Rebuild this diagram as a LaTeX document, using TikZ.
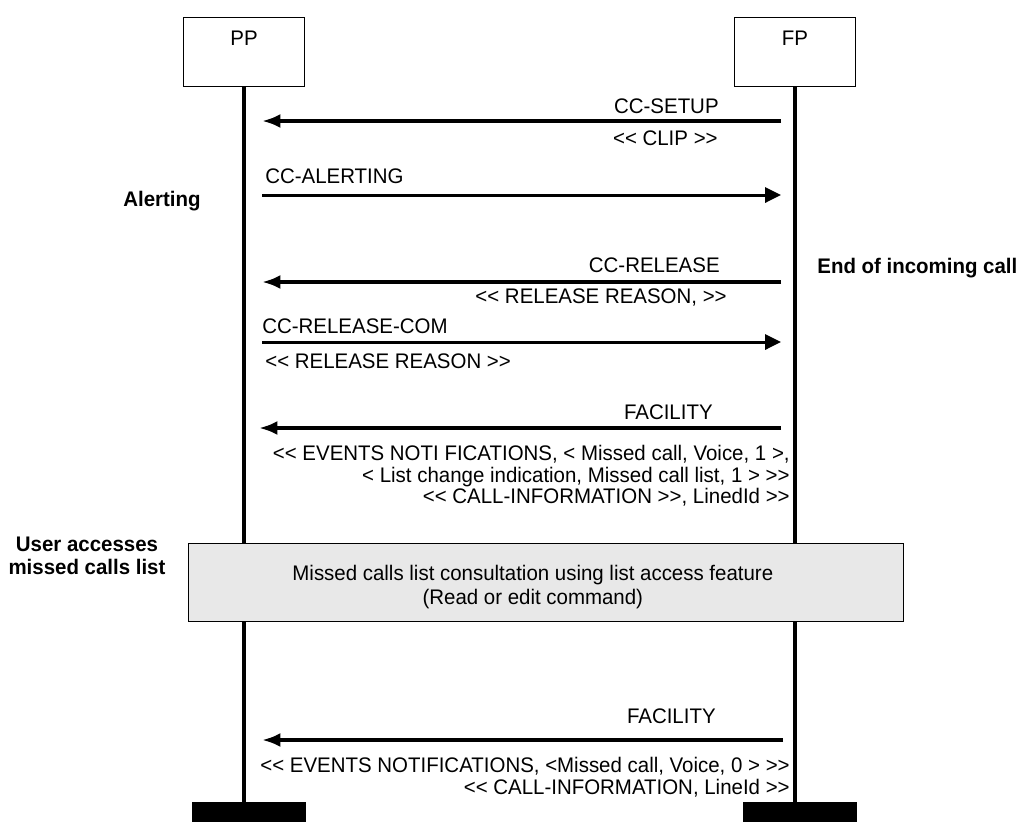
\documentclass[tikz,border=0pt]{standalone}
\usepackage{fontspec}
\setmainfont{Liberation Sans}[Ligatures=TeXOff,FakeStretch=0.97]
\usetikzlibrary{arrows.meta,positioning}
\definecolor{consultGray}{RGB}{232,232,232}
\tikzset{
  entity/.style={draw,line width=0.7pt,inner sep=0pt,minimum width=69pt,text height=15.9pt,text depth=23.8pt,font=\fontsize{12}{13}\selectfont},
  foot/.style={fill=black,inner sep=0pt,minimum width=65pt,minimum height=11.3pt},
  lifeline/.style={line width=2.4pt},
  sigheavy/.style={line width=2.3pt,-{Latex[length=10.5pt,width=8pt]}},
  siglight/.style={line width=1.7pt,-{Triangle[length=9pt,width=8.5pt]}},
  lbl/.style={inner sep=0pt,font=\fontsize{12}{13}\selectfont},
  note/.style={inner sep=0pt,font=\fontsize{12}{13}\selectfont\bfseries},
  params/.style={inner sep=0pt,align=right,anchor=north east,font=\fontsize{12}{12.3}\selectfont}
}
\begin{document}
\begin{tikzpicture}[x=0.02cm,y=-0.02cm]
\useasboundingbox (0,0) rectangle (1020,822);

% entities and lifelines
\node[entity] (pp) at (244,52) {PP};
\node[entity] (fp) at (795,52) {FP};
\node[foot] (ppfoot) at (249,812) {};
\node[foot] (fpfoot) at (800,812) {};
\draw[lifeline] (pp.south) -- (pp.south |- ppfoot.north);
\draw[lifeline] (fp.south) -- (fp.south |- fpfoot.north);

% CC-SETUP
\coordinate (setupR) at (781,121);
\coordinate (setupL) at (262,121);
\draw[sigheavy] (setupR) -- (setupL);
\node[lbl,anchor=east] (setup) at (719,106) {CC-SETUP};
\node[lbl,anchor=east] (clip) at (718,138) {<< CLIP >>};

% CC-ALERTING
\coordinate (alertL) at (262,195);
\coordinate (alertR) at (781,195);
\draw[siglight] (alertL) -- (alertR);
\node[lbl,anchor=west] (alerting) at (265,176) {CC-ALERTING};
\node[note,anchor=west] (alertnote) at (123,201) {Alerting};

% CC-RELEASE
\coordinate (relR) at (781,282);
\coordinate (relL) at (262,282);
\draw[sigheavy] (relR) -- (relL);
\node[lbl,anchor=east] (release) at (720,265) {CC-RELEASE};
\node[lbl,anchor=east] (relreason) at (727,297) {<< RELEASE REASON, >>};
\node[note,anchor=west] (endnote) at (817,268) {End of incoming call};

% CC-RELEASE-COM
\coordinate (relcomL) at (262,342);
\coordinate (relcomR) at (781,342);
\draw[siglight] (relcomL) -- (relcomR);
\node[lbl,anchor=west] (relcom) at (262,326) {CC-RELEASE-COM};
\node[lbl,anchor=west] (relcomreason) at (265,361) {<< RELEASE REASON >>};

% FACILITY (missed call)
\coordinate (facR) at (781,428);
\coordinate (facL) at (259,428);
\draw[sigheavy] (facR) -- (facL);
\node[lbl,anchor=east] (facility) at (713,412) {FACILITY};
\node[params] (facparams) at (790,445)
{<< EVENTS NOTI FICATIONS, < Missed call, Voice, 1 >,\\
< List change indication, Missed call list, 1 > >>\\
<< CALL-INFORMATION >>, LinedId >>};

% list consultation
\node[draw,line width=0.7pt,fill=consultGray,minimum width=407pt,minimum height=44.8pt,inner sep=0pt,align=center,
  font=\fontsize{12}{13.6}\selectfont] (consult) at (546,582.5)
{\hspace*{-15pt}\rule{0pt}{13.5pt}Missed calls list consultation using list access feature\\\hspace*{-15pt}(Read or edit command)};
\node[note,align=center] (usernote) at (87,556) {User accesses\\missed calls list};

% FACILITY (list cleared)
\coordinate (fac2R) at (783,740);
\coordinate (fac2L) at (262,740);
\draw[sigheavy] (fac2R) -- (fac2L);
\node[lbl,anchor=east] (facility2) at (716,716) {FACILITY};
\node[params] (fac2params) at (790,757)
{<< EVENTS NOTIFICATIONS, <Missed call, Voice, 0 > >>\\
<< CALL-INFORMATION, LineId >>};
\end{tikzpicture}
\end{document}
